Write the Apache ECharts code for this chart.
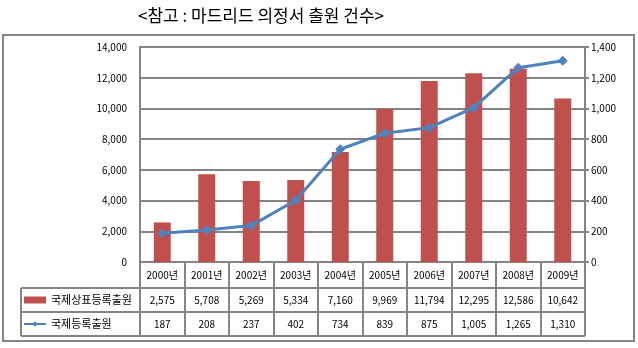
<!DOCTYPE html>
<html><head><meta charset="utf-8">
<script src="https://cdn.jsdelivr.net/npm/echarts@6/dist/echarts.min.js"></script>
<style>html,body{margin:0;padding:0;background:#fff;}#c{width:638px;height:348px;}</style>
</head><body><div id="c"></div>
<script>
var titleText = '<참고 : 마드리드 의정서 출원 건수>';
var years = ['2000년','2001년','2002년','2003년','2004년','2005년','2006년','2007년','2008년','2009년'];
var trademarkApps = [2575,5708,5269,5334,7160,9969,11794,12295,12586,10642];
var intlRegs = [187,208,237,402,734,839,875,1005,1265,1310];
var barName = '국제상표등록출원';
var lineName = '국제등록출원';
var leftTicks = {min:0, max:14000, interval:2000};
var rightTicks = {min:0, max:1400, interval:200};

var fmt = function(v){ return Number(v).toLocaleString('en-US'); };
var gray = '#848484';
var font = '"Noto Sans CJK KR", "Noto Sans", sans-serif';
var G = {left:140, right:53, top:47, bottom:86}; // plot 140..585, 47..262
var W = 638, H = 348;
var plotR = W - G.right, plotB = H - G.bottom;
var rowH = 24;

function tableAxis(offset, len, margin, values){
  return {type:'category', data:years, position:'bottom', offset:offset, boundaryGap:true,
    axisLine:{show:true, onZero:false, lineStyle:{color:gray, width:2}},
    axisTick:{show:true, interval:0, length:len, lineStyle:{color:gray, width:2}},
    axisLabel:{interval:0, margin:margin, fontSize:10, color:'#000', fontFamily:font,
      formatter: values ? function(v, i){ return fmt(values[i]); } : null}};
}

var chart = echarts.init(document.getElementById('c'), null, {renderer:'canvas'});
chart.setOption({
  animation:false,
  backgroundColor:'#fff',
  textStyle:{fontFamily:font},
  title:{text:titleText, left:133, top:2, textStyle:{fontSize:17, fontWeight:'normal', color:'#000', fontFamily:font}},
  legend:{
    orient:'vertical', left:23, top:plotB+26+5, padding:0, itemGap:10, itemWidth:22, itemHeight:7,
    textStyle:{fontSize:11, color:'#000', lineHeight:14, fontFamily:font},
    data:[{name:barName, icon:'rect'}, {name:lineName}]
  },
  grid:{left:G.left, right:G.right, top:G.top, bottom:G.bottom, containLabel:false},
  xAxis:[
    tableAxis(0, 26, 8, null),
    tableAxis(26, 24, 7, trademarkApps),
    tableAxis(50, 24, 7, intlRegs)
  ],
  yAxis:[
    {type:'value', min:leftTicks.min, max:leftTicks.max, interval:leftTicks.interval, position:'left',
     axisLine:{show:true, lineStyle:{color:gray, width:2}},
     axisTick:{show:false},
     axisLabel:{margin:13, fontSize:10, color:'#000', fontFamily:font, formatter:fmt},
     splitLine:{show:true, lineStyle:{color:gray, width:2}}},
    {type:'value', min:rightTicks.min, max:rightTicks.max, interval:rightTicks.interval, position:'right',
     axisLine:{show:true, lineStyle:{color:gray, width:2}},
     axisTick:{show:true, length:4, lineStyle:{color:gray, width:2}},
     axisLabel:{margin:6, fontSize:10, color:'#000', fontFamily:font, formatter:fmt},
     splitLine:{show:false}}
  ],
  series:[
    {name:barName, type:'bar', data:trademarkApps, xAxisIndex:0, yAxisIndex:0, barWidth:17,
     itemStyle:{color:'#C0504D'}},
    {name:lineName, type:'line', data:intlRegs, xAxisIndex:0, yAxisIndex:1,
     symbol:'diamond', symbolSize:10, lineStyle:{color:'#4F81BD', width:3},
     itemStyle:{color:'#4F81BD'}, z:5}
  ],
  graphic:[
    {type:'rect', shape:{x:3, y:35, width:631, height:306}, style:{fill:null, stroke:gray, lineWidth:2}, silent:true},
    {type:'line', shape:{x1:21, y1:plotB+26, x2:G.left, y2:plotB+26}, style:{stroke:gray, lineWidth:2}},
    {type:'line', shape:{x1:21, y1:plotB+26+rowH, x2:G.left, y2:plotB+26+rowH}, style:{stroke:gray, lineWidth:2}},
    {type:'line', shape:{x1:21, y1:plotB+26+2*rowH, x2:plotR, y2:plotB+26+2*rowH}, style:{stroke:gray, lineWidth:2}},
    {type:'line', shape:{x1:21, y1:plotB+26, x2:21, y2:plotB+26+2*rowH}, style:{stroke:gray, lineWidth:2}}
  ]
});
</script></body></html>
